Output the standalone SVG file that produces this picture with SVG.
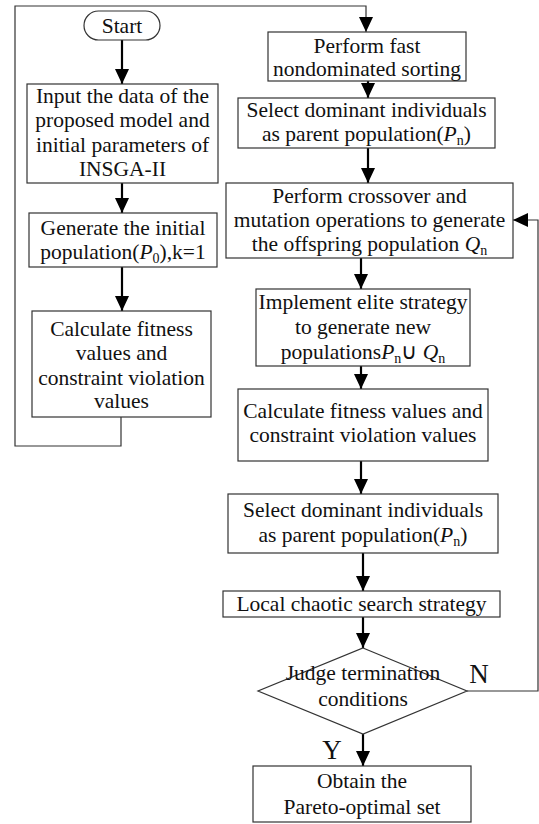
<svg xmlns="http://www.w3.org/2000/svg" width="539" height="824" viewBox="0 0 539 824">
<style>
.box{fill:#fff;stroke:#333;stroke-width:1.2}
.t{font-family:"Liberation Serif","Times New Roman",serif;font-size:21.5px;fill:#111;text-anchor:middle}
.big{font-size:27px}
.arr{stroke:#000;stroke-width:2.2;fill:none;marker-end:url(#ah)}
.thinA{stroke:#333;stroke-width:1.2;fill:none;marker-end:url(#ah)}
.i{font-style:italic}
.s{font-size:14px}
</style>
<defs>
<marker id="ah" markerUnits="userSpaceOnUse" markerWidth="15" markerHeight="14" refX="15" refY="7" orient="auto"><path d="M0,0 L15,7 L0,14 z" fill="#000"/></marker>
</defs>
<rect width="539" height="824" fill="#fff"/>
<g id="connectors">
<line class="arr" x1="122" y1="40" x2="122" y2="84"/>
<line class="arr" x1="122" y1="183" x2="122" y2="213"/>
<line class="arr" x1="122" y1="267" x2="122" y2="311"/>
<polyline class="thinA" points="121,417 121,446 15,446 15,6 366,6 366,32"/>
<line class="arr" x1="368" y1="81" x2="368" y2="98"/>
<line class="arr" x1="368" y1="148" x2="368" y2="183"/>
<line class="arr" x1="361" y1="258" x2="361" y2="289"/>
<line class="arr" x1="361" y1="366" x2="361" y2="389"/>
<line class="arr" x1="361" y1="461" x2="361" y2="494"/>
<line class="arr" x1="363" y1="553" x2="363" y2="591"/>
<line class="arr" x1="363" y1="617" x2="363" y2="648"/>
<line class="arr" x1="363" y1="734" x2="363" y2="766"/>
<polyline class="thinA" points="467,691 538,691 538,220 513,220"/>
<text class="t big" x="479" y="683">N</text>
<text class="t big" x="332" y="759">Y</text>
</g>
<g id="start">
<rect class="box" x="84" y="11" width="76" height="29" rx="14.5"/>
<text class="t" x="122" y="33">Start</text>
</g>
<g id="input">
<rect class="box" x="27" y="84" width="191" height="99"/>
<text class="t" x="122.5" y="103">Input the data of the</text>
<text class="t" x="122.5" y="127">proposed model and</text>
<text class="t" x="122.5" y="152">initial parameters of</text>
<text class="t" x="122.5" y="176">INSGA-II</text>
</g>
<g id="generate">
<rect class="box" x="29" y="213" width="188" height="54"/>
<text class="t" x="123" y="235">Generate the initial</text>
<text class="t" x="123" y="259">population(<tspan class="i">P</tspan><tspan class="s" dy="4">0</tspan><tspan dy="-4">),k=1</tspan></text>
</g>
<g id="calc1">
<rect class="box" x="32" y="311" width="179" height="106"/>
<text class="t" x="121.5" y="336">Calculate fitness</text>
<text class="t" x="121.5" y="360">values and</text>
<text class="t" x="121.5" y="385">constraint violation</text>
<text class="t" x="121.5" y="408">values</text>
</g>
<g id="sort">
<rect class="box" x="268" y="32" width="198" height="49"/>
<text class="t" x="367" y="53">Perform fast</text>
<text class="t" x="367" y="76">nondominated sorting</text>
</g>
<g id="select1">
<rect class="box" x="238" y="98" width="257" height="50"/>
<text class="t" x="366.5" y="117">Select dominant individuals</text>
<text class="t" x="366.5" y="141">as parent population(<tspan class="i">P</tspan><tspan class="s" dy="4">n</tspan><tspan dy="-4">)</tspan></text>
</g>
<g id="crossover">
<rect class="box" x="226" y="183" width="287" height="75"/>
<text class="t" x="369.5" y="203">Perform crossover and</text>
<text class="t" x="369.5" y="227">mutation operations to generate</text>
<text class="t" x="369.5" y="251">the offspring population <tspan class="i">Q</tspan><tspan class="s" dy="4">n</tspan></text>
</g>
<g id="elite">
<rect class="box" x="256" y="289" width="214" height="77"/>
<text class="t" x="363" y="309">Implement elite strategy</text>
<text class="t" x="363" y="334">to generate new</text>
<text class="t" x="363" y="359">populations<tspan class="i">P</tspan><tspan class="s" dy="4">n</tspan><tspan dy="-4">∪ </tspan><tspan class="i">Q</tspan><tspan class="s" dy="4">n</tspan></text>
</g>
<g id="calc2">
<rect class="box" x="238" y="389" width="250" height="72"/>
<text class="t" x="363" y="418">Calculate fitness values and</text>
<text class="t" x="363" y="442">constraint violation values</text>
</g>
<g id="select2">
<rect class="box" x="228" y="494" width="270" height="59"/>
<text class="t" x="363" y="517">Select dominant individuals</text>
<text class="t" x="363" y="542">as parent population(<tspan class="i">P</tspan><tspan class="s" dy="4">n</tspan><tspan dy="-4">)</tspan></text>
</g>
<g id="local">
<rect class="box" x="223" y="591" width="277" height="26"/>
<text class="t" x="361.5" y="611">Local chaotic search strategy</text>
</g>
<g id="judge">
<polygon class="box" points="363,648 467,691 363,734 258,691"/>
<text class="t" x="363" y="680">Judge termination</text>
<text class="t" x="363" y="706">conditions</text>
</g>
<g id="obtain">
<rect class="box" x="253" y="766" width="218" height="56"/>
<text class="t" x="362" y="788">Obtain the</text>
<text class="t" x="362" y="814">Pareto-optimal set</text>
</g>
</svg>
